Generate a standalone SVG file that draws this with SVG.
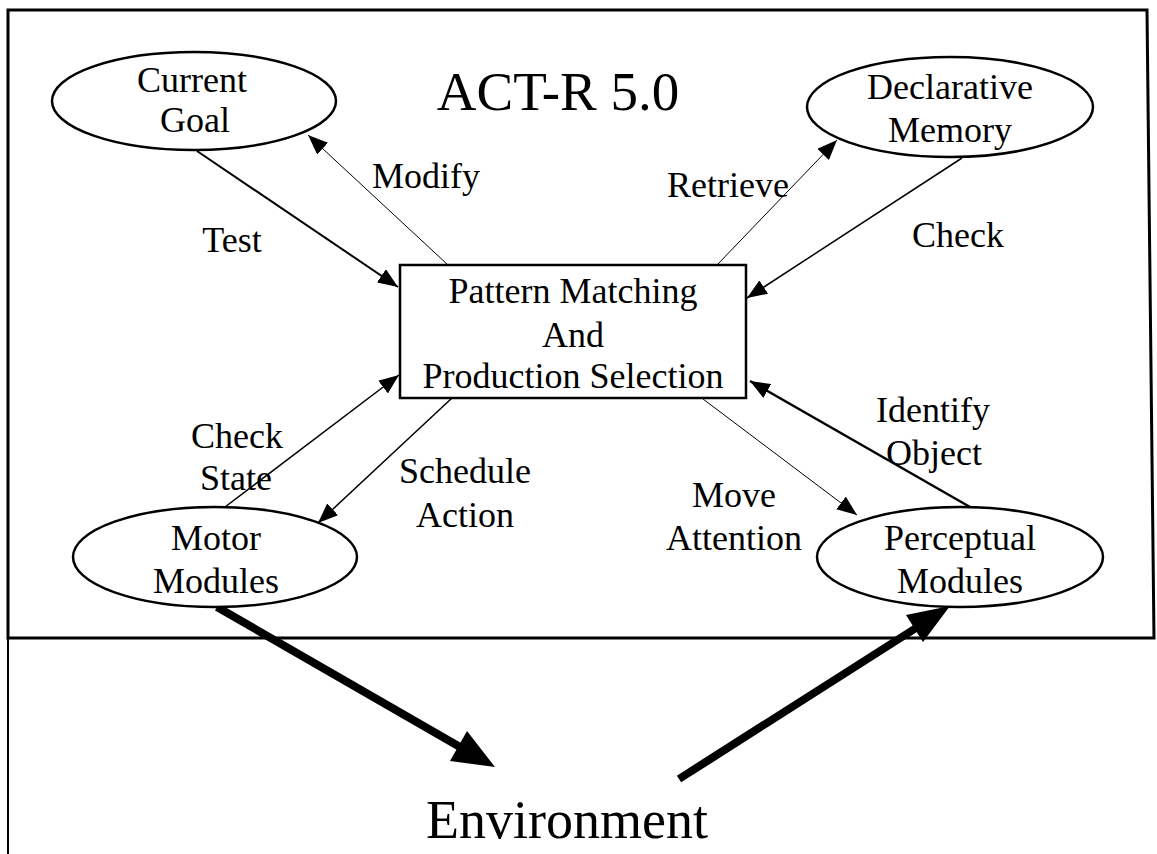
<svg xmlns="http://www.w3.org/2000/svg" width="1157" height="854" viewBox="0 0 1157 854">
  <style>
    text { font-family: "Liberation Serif", "Times New Roman", serif; fill: #000; text-anchor: middle; }
    .lbl { font-size: 36px; }
    .big { font-size: 54px; }
    .title { font-size: 55px; }
    .node { fill: #fff; stroke: #000; stroke-width: 2.5; }
    .edge { fill: none; stroke: #000; }
    .thick { fill: none; stroke: #000; stroke-width: 8; }
  </style>
  <defs>
    <marker id="ah" viewBox="0 0 20 16" refX="20" refY="8" markerWidth="20" markerHeight="16" markerUnits="userSpaceOnUse" orient="auto">
      <path d="M0,0 L20,8 L0,16 Z" fill="#000"/>
    </marker>
    <linearGradient id="gModify" gradientUnits="userSpaceOnUse" x1="448" y1="265" x2="308" y2="135">
      <stop offset="0" stop-color="#000"/>
      <stop offset="1" stop-color="#cfcfcf"/>
    </linearGradient>
    <linearGradient id="gMove" gradientUnits="userSpaceOnUse" x1="703" y1="399" x2="857" y2="515">
      <stop offset="0" stop-color="#000"/>
      <stop offset="1" stop-color="#c8c8c8"/>
    </linearGradient>
  </defs>

  <rect width="1157" height="854" fill="#fff"/>

  <!-- frame -->
  <g id="frame">
    <path d="M8,638 L8,10 L1147,10 L1154,638 Z" fill="none" stroke="#000" stroke-width="3"/>
    <line x1="8" y1="638" x2="8" y2="854" stroke="#000" stroke-width="2"/>
  </g>

  <g id="title">
    <text class="title" x="558" y="110">ACT-R 5.0</text>
  </g>

  <!-- connectors -->
  <g id="connectors">
    <line class="edge" x1="197" y1="151" x2="398" y2="287" stroke-width="2" marker-end="url(#ah)"/>
    <line class="edge" x1="448" y1="265" x2="308" y2="135" stroke="url(#gModify)" stroke-width="1" marker-end="url(#ah)"/>
    <line class="edge" x1="717" y1="265" x2="837" y2="140" stroke="#c8c8c8" stroke-width="1" marker-end="url(#ah)"/>
    <line class="edge" x1="962" y1="158" x2="747" y2="298" stroke-width="1.5" marker-end="url(#ah)"/>
    <line class="edge" x1="225" y1="507" x2="399" y2="375" stroke-width="1.5" marker-end="url(#ah)"/>
    <line class="edge" x1="452" y1="398" x2="318" y2="523" stroke-width="1.5" marker-end="url(#ah)"/>
    <line class="edge" x1="703" y1="399" x2="857" y2="515" stroke="url(#gMove)" stroke-width="1" marker-end="url(#ah)"/>
    <line class="edge" x1="970" y1="507" x2="750" y2="381" stroke-width="2.5" marker-end="url(#ah)"/>
    <!-- thick arrows to/from environment -->
    <line class="thick" x1="217" y1="607" x2="460" y2="747"/>
    <polygon points="495,767 450,761 467,731" fill="#000"/>
    <line class="thick" x1="679" y1="779" x2="916" y2="628"/>
    <polygon points="950,606 923,642 906,615" fill="#000"/>
  </g>

  <!-- edge labels -->
  <g id="labels">
    <text class="lbl" x="232" y="252">Test</text>
    <text class="lbl" x="426" y="188">Modify</text>
    <text class="lbl" x="728" y="197">Retrieve</text>
    <text class="lbl" x="958" y="247">Check</text>
    <text class="lbl" x="237" y="448">Check</text>
    <text class="lbl" x="236" y="490">State</text>
    <text class="lbl" x="465" y="483">Schedule</text>
    <text class="lbl" x="465" y="527">Action</text>
    <text class="lbl" x="734" y="507">Move</text>
    <text class="lbl" x="734" y="550">Attention</text>
    <text class="lbl" x="933" y="422">Identify</text>
    <text class="lbl" x="934" y="465">Object</text>
  </g>

  <g id="current-goal">
    <ellipse class="node" cx="194" cy="101" rx="142" ry="49"/>
    <text class="lbl" x="192" y="92">Current</text>
    <text class="lbl" x="195" y="132">Goal</text>
  </g>

  <g id="declarative-memory">
    <ellipse class="node" cx="950" cy="107" rx="143" ry="50"/>
    <text class="lbl" x="950" y="99">Declarative</text>
    <text class="lbl" x="950" y="142">Memory</text>
  </g>

  <g id="pattern-matching">
    <rect class="node" x="400" y="265" width="346" height="133"/>
    <text class="lbl" x="573" y="303">Pattern Matching</text>
    <text class="lbl" x="573" y="347">And</text>
    <text class="lbl" x="573" y="388">Production Selection</text>
  </g>

  <g id="motor-modules">
    <ellipse class="node" cx="215" cy="557" rx="142" ry="50"/>
    <text class="lbl" x="216" y="550">Motor</text>
    <text class="lbl" x="216" y="593">Modules</text>
  </g>

  <g id="perceptual-modules">
    <ellipse class="node" cx="960" cy="557" rx="143" ry="50"/>
    <text class="lbl" x="960" y="550">Perceptual</text>
    <text class="lbl" x="960" y="593">Modules</text>
  </g>

  <g id="environment">
    <text class="big" x="567" y="838">Environment</text>
  </g>
</svg>
